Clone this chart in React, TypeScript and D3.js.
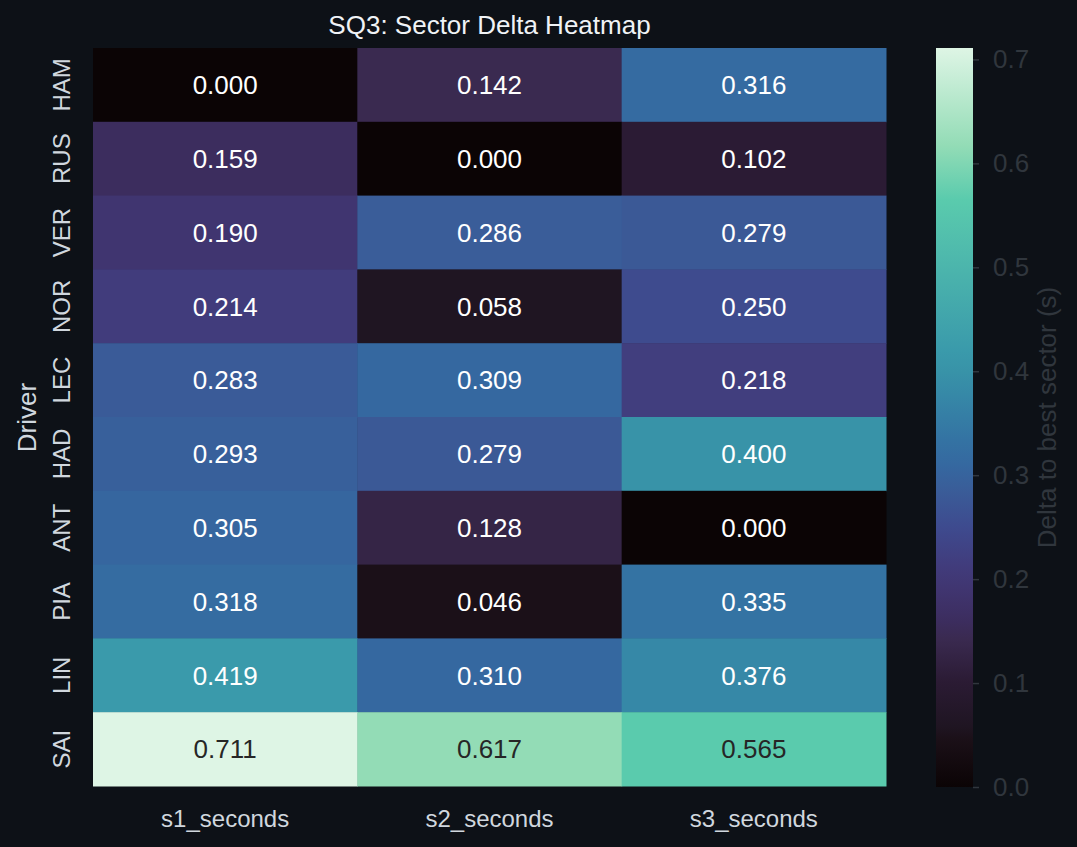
import React, { useRef, useEffect } from 'react';
import * as d3 from 'd3';

const DRIVERS = ['HAM', 'RUS', 'VER', 'NOR', 'LEC', 'HAD', 'ANT', 'PIA', 'LIN', 'SAI'];
const SECTORS = ['s1_seconds', 's2_seconds', 's3_seconds'];
const S1 = [0.0, 0.159, 0.19, 0.214, 0.283, 0.293, 0.305, 0.318, 0.419, 0.711];
const S2 = [0.142, 0.0, 0.286, 0.058, 0.309, 0.279, 0.128, 0.046, 0.31, 0.617];
const S3 = [0.316, 0.102, 0.279, 0.25, 0.218, 0.4, 0.0, 0.335, 0.376, 0.565];
const CBAR_TICKS = [0, 0.1, 0.2, 0.3, 0.4, 0.5, 0.6, 0.7];

// mako-ish colormap, stops in normalized position
const MAKO_POS = [0, 0.065, 0.082, 0.143, 0.2, 0.224, 0.267, 0.3, 0.35, 0.4, 0.435, 0.47, 0.53, 0.563, 0.59, 0.795, 0.868, 1];
const MAKO_COL = ['#0b0405', '#1b1018', '#1f1522', '#2b1b34', '#3a2a50', '#3c2d5e', '#403570', '#413c7c', '#3e4a8e', '#3a5c98',
    '#3568a0', '#3473a3', '#3688a7', '#3893a8', '#3a9aab', '#5acbad', '#93dcb6', '#def5e5'];

const BG = '#0d1117';
const FONT = 'Liberation Sans, Arial, sans-serif';

export default function App() {
    const svgRef = useRef<SVGSVGElement>(null);
    const width = 1077, height = 847;
    const margin = { top: 48, right: 191, bottom: 60, left: 93 };

    useEffect(() => {
        const svg = d3.select(svgRef.current);
        svg.selectAll('*').remove();

        const cols = [S1, S2, S3];
        const cells = DRIVERS.flatMap((d, i) => SECTORS.map((s, j) => ({ driver: d, sector: s, value: cols[j][i] })));
        const vmax = d3.max(cells, c => c.value) as number;

        const x = d3.scaleBand().domain(SECTORS).range([margin.left, width - margin.right]);
        const y = d3.scaleBand().domain(DRIVERS).range([margin.top, height - margin.bottom - 1]);
        const color = d3.scaleLinear<string>()
            .domain(MAKO_POS.map(p => p * vmax))
            .range(MAKO_COL)
            .interpolate(d3.interpolateRgb)
            .clamp(true);

        svg.append('rect').attr('width', width).attr('height', height).attr('fill', BG);

        // cells
        svg.append('g')
            .selectAll('rect')
            .data(cells)
            .join('rect')
            .attr('x', d => x(d.sector)!)
            .attr('y', d => y(d.driver)!)
            .attr('width', x.bandwidth() + 0.5)
            .attr('height', y.bandwidth() + 0.5)
            .attr('fill', d => color(d.value));

        // annotations
        svg.append('g')
            .selectAll('text')
            .data(cells)
            .join('text')
            .attr('x', d => x(d.sector)! + x.bandwidth() / 2)
            .attr('y', d => y(d.driver)! + y.bandwidth() / 2)
            .attr('dy', '0.36em')
            .attr('text-anchor', 'middle')
            .attr('font-family', FONT)
            .attr('font-size', 26)
            .attr('fill', d => (d.value / vmax > 0.7 ? '#262626' : '#ffffff'))
            .text(d => d.value.toFixed(3));

        // row labels
        svg.append('g')
            .selectAll('text')
            .data(DRIVERS)
            .join('text')
            .attr('transform', d => `translate(${margin.left - 23},${y(d)! + y.bandwidth() / 2}) rotate(-90)`)
            .attr('text-anchor', 'middle')
            .attr('font-family', FONT)
            .attr('font-size', 24)
            .attr('fill', '#d0d7de')
            .text(d => d);

        svg.append('text')
            .attr('transform', `translate(36,${(margin.top + height - margin.bottom) / 2}) rotate(-90)`)
            .attr('text-anchor', 'middle')
            .attr('font-family', FONT)
            .attr('font-size', 26)
            .attr('fill', '#d0d7de')
            .text('Driver');

        // column labels
        svg.append('g')
            .selectAll('text')
            .data(SECTORS)
            .join('text')
            .attr('x', d => x(d)! + x.bandwidth() / 2)
            .attr('y', height - margin.bottom + 40)
            .attr('text-anchor', 'middle')
            .attr('font-family', FONT)
            .attr('font-size', 24)
            .attr('fill', '#d0d7de')
            .text(d => d);

        // title
        svg.append('text')
            .attr('x', (margin.left + width - margin.right) / 2)
            .attr('y', 34)
            .attr('text-anchor', 'middle')
            .attr('font-family', FONT)
            .attr('font-size', 26)
            .attr('fill', '#f0f3f6')
            .text('SQ3: Sector Delta Heatmap');

        // colorbar
        const cbX = 936, cbW = 37;
        const cy = d3.scaleLinear().domain([0, vmax]).range([height - margin.bottom, margin.top]);
        const defs = svg.append('defs');
        const grad = defs.append('linearGradient')
            .attr('id', 'cbar-grad')
            .attr('x1', 0).attr('y1', 1).attr('x2', 0).attr('y2', 0);
        grad.selectAll('stop')
            .data(MAKO_POS)
            .join('stop')
            .attr('offset', d => d)
            .attr('stop-color', (d, i) => MAKO_COL[i]);
        svg.append('rect')
            .attr('x', cbX)
            .attr('y', cy(vmax))
            .attr('width', cbW)
            .attr('height', cy(0) - cy(vmax))
            .attr('fill', 'url(#cbar-grad)');

        svg.append('g')
            .attr('transform', `translate(${cbX + cbW},0)`)
            .attr('color', '#30363d')
            .call(d3.axisRight(cy).tickValues(CBAR_TICKS).tickFormat(d3.format('.1f')).tickSize(6).tickPadding(14))
            .call(g => g.select('.domain').remove())
            .call(g => g.selectAll('.tick line').attr('stroke-width', 1.5))
            .call(g => g.selectAll('.tick text')
                .attr('font-size', 26)
                .attr('font-family', FONT)
                .attr('fill', '#30363d'));

        svg.append('text')
            .attr('transform', `translate(1056,${(margin.top + height - margin.bottom) / 2}) rotate(-90)`)
            .attr('text-anchor', 'middle')
            .attr('font-family', FONT)
            .attr('font-size', 26)
            .attr('fill', '#30363d')
            .text('Delta to best sector (s)');
    }, []);

    return (
        <svg
            ref={svgRef}
            width={width}
            height={height}
            style={{ position: 'absolute', left: 0, top: 0, display: 'block' }}
        />
    );
}
